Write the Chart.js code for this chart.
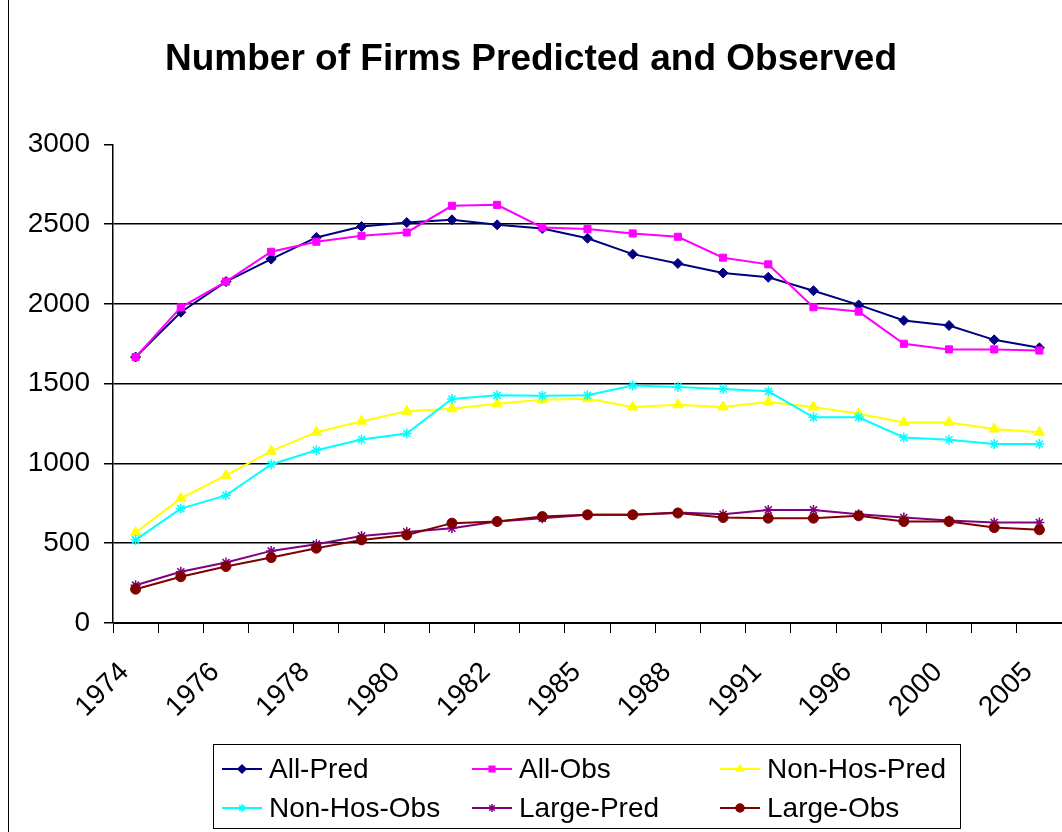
<!DOCTYPE html>
<html>
<head>
<meta charset="utf-8">
<script src="https://cdn.jsdelivr.net/npm/chart.js@4/dist/chart.umd.min.js"></script>
<style>
  html, body { margin: 0; padding: 0; background: #fff; }
  #wrap { width: 1062px; height: 832px; position: relative; }
</style>
</head>
<body>
<div id="wrap"><canvas id="firms" width="1062" height="832"></canvas></div>
<script>
// categories (only every other one is labelled on the axis)
const years = ["1974", "1975", "1976", "1977", "1978", "1979", "1980", "1981", "1982", "1984", "1985",
               "1986", "1988", "1990", "1991", "1994", "1996", "1998", "2000", "2002", "2005"];

const allPred    = [1667, 1948, 2140, 2281, 2417, 2485, 2510, 2527, 2496, 2473, 2412, 2312, 2254, 2194, 2167, 2083, 1994, 1896, 1865, 1775, 1725];
const allObs     = [1667, 1979, 2140, 2327, 2390, 2427, 2448, 2615, 2621, 2479, 2469, 2442, 2421, 2290, 2248, 1979, 1952, 1750, 1715, 1715, 1708];
const nonHosPred = [567, 781, 925, 1077, 1196, 1265, 1327, 1343, 1375, 1400, 1406, 1354, 1368, 1354, 1385, 1354, 1312, 1257, 1257, 1216, 1195];
const nonHosObs  = [521, 717, 800, 994, 1083, 1150, 1188, 1404, 1427, 1425, 1427, 1488, 1480, 1467, 1452, 1289, 1289, 1163, 1149, 1122, 1122];
const largePred  = [237, 321, 379, 452, 494, 546, 571, 594, 636, 657, 678, 678, 692, 682, 709, 709, 682, 661, 642, 630, 630];
const largeObs   = [212, 290, 354, 410, 469, 521, 552, 626, 636, 667, 678, 678, 689, 661, 657, 657, 672, 636, 636, 598, 584];

const yTicks = [0, 500, 1000, 1500, 2000, 2500, 3000];

const FONT = "'Liberation Sans', Arial, sans-serif";

function series(label, data, color, style, radius, idx) {
    return {
        label: label,
        data: data,
        borderColor: color,
        backgroundColor: color,
        pointBackgroundColor: color,
        pointBorderColor: color,
        pointStyle: style,
        pointRadius: radius,
        pointBorderWidth: style === "star" ? 1.5 : 1,
        borderWidth: 2,
        tension: 0,
        fill: false,
        order: 10 - idx   // later series on top, like Excel
    };
}

const datasets = [
    series("All-Pred", allPred, "#000080", "rectRot", 5, 0),
    series("All-Obs", allObs, "#ff00ff", "rect", 5, 1),
    series("Non-Hos-Pred", nonHosPred, "#ffff00", "triangle", 6, 2),
    series("Non-Hos-Obs", nonHosObs, "#00ffff", "star", 5, 3),
    series("Large-Pred", largePred, "#800080", "star", 5, 4),
    series("Large-Obs", largeObs, "#800000", "circle", 5, 5)
];

// boxed 3-column legend under the axis, drawn on the canvas
const boxLegend = {
    id: "boxLegend",
    afterDraw(chart) {
        const ctx = chart.ctx;
        ctx.save();
        // outer chart border on the left
        ctx.strokeStyle = "#000";
        ctx.lineWidth = 1;
        ctx.beginPath();
        ctx.moveTo(8.5, 0);
        ctx.lineTo(8.5, 832);
        ctx.stroke();

        ctx.strokeRect(213.5, 744.5, 747, 84);
        const cols = [222, 472, 720];
        const rows = [769, 808];
        ctx.font = "28px " + FONT;
        ctx.textBaseline = "middle";
        ctx.textAlign = "left";
        chart.data.datasets.forEach(function (ds, i) {
            const x = cols[i % 3], y = rows[Math.floor(i / 3)];
            ctx.strokeStyle = ds.borderColor;
            ctx.lineWidth = 2;
            ctx.beginPath();
            ctx.moveTo(x, y);
            ctx.lineTo(x + 40, y);
            ctx.stroke();
            ctx.fillStyle = ds.borderColor;
            ctx.lineWidth = 1.5;
            Chart.helpers.drawPoint(ctx, { pointStyle: ds.pointStyle, radius: 4, rotation: 0, borderWidth: 1.5 }, x + 20, y);
            ctx.fillStyle = "#000";
            ctx.fillText(ds.label, x + 47, y + 1);
        });
        ctx.restore();
    }
};

new Chart(document.getElementById("firms").getContext("2d"), {
    type: "line",
    data: { labels: years, datasets: datasets },
    plugins: [boxLegend],
    options: {
        responsive: false,
        animation: false,
        layout: { autoPadding: false, padding: { left: 0, right: 0, top: 0, bottom: 99 } },
        plugins: {
            legend: { display: false },
            tooltip: { enabled: false },
            title: {
                display: true,
                text: "Number of Firms Predicted and Observed",
                color: "#000",
                font: { family: FONT, size: 37, weight: "bold" },
                padding: { top: 38, bottom: 62 }
            }
        },
        scales: {
            x: {
                offset: true,
                grid: { offset: true, drawOnChartArea: false, color: "#000", tickColor: "#000", tickLength: 10 },
                border: { color: "#000", width: 1 },
                ticks: {
                    autoSkip: false,
                    minRotation: 45,
                    maxRotation: 45,
                    padding: 23,
                    labelOffset: -11,
                    color: "#000",
                    font: { family: FONT, size: 28 },
                    callback: function (v, i) { return i % 2 === 0 ? years[i] : ""; }
                },
                afterFit: function (s) { s.height = 110; s.paddingLeft = 0; s.paddingRight = 0; }
            },
            y: {
                min: 0,
                max: 3000,
                afterBuildTicks: function (s) { s.ticks = yTicks.map(function (v) { return { value: v }; }); },
                grid: {
                    color: function (c) { return c.tick && c.tick.value === 3000 ? "rgba(0,0,0,0)" : "#000"; },
                    tickColor: "#000",
                    tickLength: 9,
                    lineWidth: 1.5
                },
                border: { color: "#000", width: 1.5 },
                ticks: {
                    padding: 14,
                    color: "#000",
                    font: { family: FONT, size: 28 },
                    callback: function (v) { return String(v); }
                },
                afterFit: function (s) { s.width = 113; }
            }
        }
    }
});
</script>
</body>
</html>
